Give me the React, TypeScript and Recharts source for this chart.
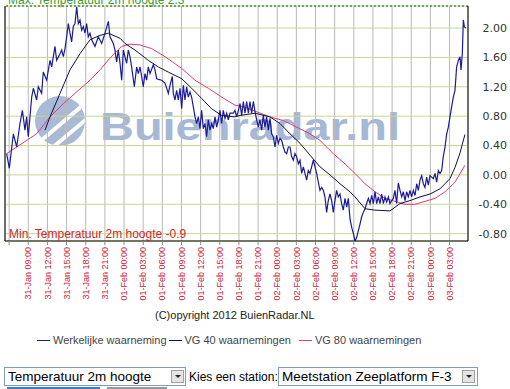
import { LineChart, Line, XAxis, YAxis, CartesianGrid, ReferenceLine } from 'recharts';

// tijd in uren sinds 31-Jan 00:00
const obsHours = [
  5.61, 6.03, 6.66, 7.18, 7.7, 8.07, 8.48, 8.74, 9.0, 9.53, 9.79, 10.31, 10.57, 11.09, 11.35, 11.88,
  12.4, 12.66, 13.18, 13.44, 13.97, 14.23, 14.49, 14.75, 15.01, 15.27, 15.53, 15.79, 16.05, 16.32,
  16.58, 16.84, 17.1, 17.36, 17.62, 17.88, 18.14, 18.4, 18.67, 18.93, 19.45, 19.97, 20.49, 21.02,
  21.54, 21.8, 22.32, 22.58, 22.84, 23.1, 23.37, 23.63, 23.89, 24.41, 24.67, 24.93, 25.19, 25.61,
  25.98, 26.24, 26.5, 26.76, 27.02, 27.28, 27.54, 27.8, 28.07, 28.59, 28.85, 29.11, 29.89, 30.42,
  30.94, 31.2, 31.56, 31.72, 31.98, 32.24, 32.5, 32.77, 33.03, 33.29, 33.55, 33.81, 34.07, 34.33,
  34.59, 34.85, 35.12, 35.38, 35.64, 35.9, 36.16, 36.42, 36.68, 36.94, 37.2, 37.47, 37.73, 37.99,
  38.25, 38.51, 38.77, 39.03, 39.29, 39.55, 39.82, 40.08, 40.34, 40.6, 41.12, 41.38, 41.64, 41.91,
  42.17, 42.43, 42.69, 42.95, 43.21, 43.47, 43.73, 43.99, 44.26, 44.52, 44.78, 45.04, 45.3, 45.56,
  45.82, 46.08, 46.34, 46.61, 46.87, 47.13, 47.39, 47.65, 47.91, 48.17, 48.43, 48.69, 48.96, 49.22,
  49.48, 49.74, 50.0, 50.26, 50.52, 50.78, 51.04, 51.31, 51.57, 51.83, 52.09, 52.35, 52.61, 52.87,
  53.13, 53.39, 53.66, 53.92, 54.18, 54.44, 54.7, 54.96, 55.22, 55.48, 55.74, 56.0, 56.27, 56.53,
  56.79, 57.05, 57.31, 57.57, 57.83, 58.09, 58.35, 58.62, 58.88, 59.14, 59.4, 59.66, 59.93, 60.19,
  60.45, 60.71, 60.97, 61.23, 61.49, 61.75, 62.01, 62.28, 62.54, 62.8, 63.06, 63.32, 63.58, 63.84,
  64.1, 64.36, 64.63, 64.89, 65.15, 65.41, 65.67, 65.93, 66.19, 66.45, 66.71, 66.97, 67.24, 67.5,
  67.76, 68.02, 68.28, 68.54, 68.8, 69.06, 69.33, 69.59, 69.85, 70.11, 70.37, 70.63, 70.89, 71.15,
  71.41, 71.67, 71.94, 72.2, 72.46, 72.72, 72.98, 73.24, 73.5, 73.76, 74.02, 74.29, 74.55, 74.81,
  75.07, 75.33, 75.59, 75.85, 76.11, 76.38, 76.64, 76.79, 77.0, 77.16, 77.31, 77.52,
];
const obsValues = [
  0.29, 0.09, 0.56, 0.38, 0.7, 0.88, 0.61, 0.79, 0.52, 1.06, 1.18, 1.02, 1.2, 1.11, 1.4, 1.29,
  1.56, 1.47, 1.75, 1.56, 1.65, 1.7, 1.61, 1.72, 1.88, 2.06, 1.93, 1.81, 2.02, 2.06,
  2.29, 2.06, 2.11, 1.97, 2.02, 1.93, 2.06, 1.88, 1.93, 1.84, 1.75, 1.88, 1.79, 1.93,
  2.09, 1.88, 1.79, 1.7, 1.54, 1.7, 1.52, 1.29, 1.7, 1.52, 1.7, 1.61, 1.47, 1.2,
  1.47, 1.38, 1.47, 1.34, 1.2, 1.38, 1.29, 1.47, 1.38, 1.5, 1.43, 1.31, 1.29, 1.25,
  1.11, 1.22, 1.34, 1.11, 1.02, 1.15, 1.02, 1.18, 0.9, 1.22, 1.02, 1.2, 1.06, 1.13,
  1.06, 0.93, 0.79, 0.7, 0.79, 0.63, 0.88, 0.63, 0.7, 0.52, 0.75, 0.61, 0.7, 0.63,
  0.79, 0.65, 0.75, 0.88, 0.7, 0.88, 0.77, 0.84, 0.75, 0.84, 0.84, 0.88, 0.79, 0.88,
  0.97, 0.81, 1.0, 0.84, 1.0, 0.84, 1.0, 0.84, 1.0, 0.86, 0.75, 0.65, 0.75, 0.61,
  0.81, 0.65, 0.79, 0.61, 0.77, 0.56, 0.52, 0.38, 0.54, 0.43, 0.5, 0.47, 0.38, 0.31,
  0.29, 0.38, 0.38, 0.25, 0.2, 0.29, 0.25, 0.15, 0.2, 0.02, 0.11, 0.02, -0.07, 0.06,
  0.02, 0.11, 0.2, 0.11, 0.02, -0.1, -0.21, -0.17, -0.21, -0.3, -0.51, -0.35, -0.26, -0.35,
  -0.51, -0.35, -0.21, -0.3, -0.26, -0.39, -0.48, -0.32, -0.44, -0.32, -0.6, -0.71, -0.8, -0.9,
  -0.85, -0.76, -0.67, -0.57, -0.51, -0.46, -0.39, -0.32, -0.39, -0.28, -0.39, -0.23, -0.39, -0.3,
  -0.39, -0.26, -0.39, -0.3, -0.37, -0.3, -0.39, -0.35, -0.32, -0.21, -0.39, -0.11, -0.21, -0.3,
  -0.23, -0.35, -0.23, -0.3, -0.21, -0.3, -0.21, -0.28, -0.12, -0.21, -0.07, -0.01, -0.12, -0.17,
  -0.03, -0.14, -0.01, -0.03, -0.05, 0.02, -0.1, 0.06, 0.02, 0.06, 0.25, 0.38, 0.56, 0.65,
  0.79, 0.93, 1.06, 1.15, 1.47, 1.56, 1.61, 1.43, 1.65, 2.11, 2.02, 2.0,
];

const vg40Hours = [
  11.62, 12.4, 13.97, 15.53, 17.1, 18.67, 20.23, 21.53, 23.37, 24.15, 25.72, 27.8, 29.37, 30.93,
  33.03, 34.6, 36.17, 37.73, 39.3, 41.38, 42.17, 44.52, 46.87, 48.43, 50.0, 51.57, 53.13, 54.7,
  56.27, 57.83, 59.4, 60.19, 61.75, 63.32, 65.67, 67.24, 68.8, 70.37, 71.94, 73.5, 74.29, 75.07,
  75.85, 76.64, 77.41,
];
const vg40Values = [
  0.61, 0.79, 1.11, 1.43, 1.65, 1.84, 1.9, 1.93, 1.86, 1.79, 1.7, 1.56, 1.47, 1.4,
  1.31, 1.18, 1.04, 0.9, 0.81, 0.79, 0.81, 0.84, 0.79, 0.7, 0.56, 0.43, 0.27, 0.11,
  0.0, -0.12, -0.23, -0.3, -0.46, -0.48, -0.49, -0.39, -0.35, -0.3, -0.26, -0.19, -0.12, -0.05,
  0.1, 0.3, 0.55,
];

const vg80Hours = [
  5.62, 7.18, 8.75, 10.32, 12.4, 14.48, 16.58, 18.67, 20.23, 21.8, 23.63, 24.93, 26.5, 28.33,
  30.42, 33.03, 35.12, 37.2, 39.3, 41.38, 42.68, 44.78, 46.87, 48.95, 51.05, 53.13, 54.7, 56.78,
  58.62, 60.19, 61.75, 63.32, 64.89, 66.45, 68.02, 69.59, 71.15, 72.72, 74.29, 75.85, 77.41,
];
const vg80Values = [
  0.29, 0.38, 0.47, 0.56, 0.79, 0.97, 1.13, 1.29, 1.43, 1.59, 1.75, 1.78, 1.77, 1.72,
  1.61, 1.45, 1.29, 1.18, 1.06, 0.95, 0.93, 0.86, 0.79, 0.74, 0.65, 0.56, 0.47, 0.29,
  0.15, 0.02, -0.12, -0.23, -0.32, -0.36, -0.4, -0.4, -0.36, -0.32, -0.23, -0.1, 0.13,
];

const tickHours = [6, 9, 12, 15, 18, 21, 24, 27, 30, 33, 36, 39, 42, 45, 48, 51, 54, 57, 60, 63, 66, 69, 72, 75];
const tickLabels = [
  '', '31-Jan 09:00', '31-Jan 12:00', '31-Jan 15:00', '31-Jan 18:00', '31-Jan 21:00',
  '01-Feb 00:00', '01-Feb 03:00', '01-Feb 06:00', '01-Feb 09:00', '01-Feb 12:00', '01-Feb 15:00',
  '01-Feb 18:00', '01-Feb 21:00', '02-Feb 00:00', '02-Feb 03:00', '02-Feb 06:00', '02-Feb 09:00',
  '02-Feb 12:00', '02-Feb 15:00', '02-Feb 18:00', '02-Feb 21:00', '03-Feb 00:00', '03-Feb 03:00',
];
const yTicks = [-0.8, -0.4, 0, 0.4, 0.8, 1.2, 1.6, 2.0];
const xMin = 5.35;
const xMax = 77.89;
const yMin = -0.9;
const yMax = 2.3;

const obsData = obsHours.map((h, i) => ({ h, v: obsValues[i] }));
const vg40Data = vg40Hours.map((h, i) => ({ h, v: vg40Values[i] }));
const vg80Data = vg80Hours.map((h, i) => ({ h, v: vg80Values[i] }));

const sans = '"Liberation Sans", Arial, sans-serif';

const XTick = (props: any) => {
  const { x, y, payload } = props;
  const label = tickLabels[tickHours.indexOf(payload.value)] ?? '';
  return (
    <text x={x} y={y} transform={`rotate(-90 ${x} ${y})`} textAnchor="end" dy="0.35em"
      fontSize={9} fill="#cc2236" fontFamily={sans}>
      {label}
    </text>
  );
};

const YTick = (props: any) => {
  const { x, y, payload } = props;
  return (
    <text x={x + 39} y={y} textAnchor="end" dy="0.35em" fontSize={11} fill="#333"
      fontFamily='"DejaVu Sans", Verdana, sans-serif'>
      {payload.value.toFixed(2)}
    </text>
  );
};

const Watermark = () => (
  <svg width={510} height={250} style={{ position: 'absolute', left: 0, top: 0 }}>
    <defs>
      <clipPath id="logo">
        <circle cx={60} cy={121} r={25} />
      </clipPath>
    </defs>
    <circle cx={60} cy={121} r={25} fill="#a8bad6" />
    <g clipPath="url(#logo)" stroke="#fff" strokeWidth={4}>
      <line x1={30} y1={150} x2={95} y2={95} />
      <line x1={40} y1={158} x2={100} y2={108} />
    </g>
    <text x={100} y={140} fontSize={38} fontWeight="bold" fill="#a6b8d6" textLength={300}
      lengthAdjust="spacingAndGlyphs" fontFamily={sans}>
      Buienradar.nl
    </text>
  </svg>
);

const legendItems = [
  { name: 'Werkelijke waarneming', color: '#1a1a9a' },
  { name: 'VG 40 waarnemingen', color: '#101040' },
  { name: 'VG 80 waarnemingen', color: '#d63c7c' },
];

const selectStyle = {
  position: 'absolute' as const,
  top: 367,
  height: 19,
  border: '1px solid #7f9db9',
  background: '#fff',
  fontSize: 13.5,
  lineHeight: '17px',
  paddingLeft: 3,
  boxSizing: 'border-box' as const,
  color: '#000',
  whiteSpace: 'nowrap' as const,
};

const Arrow = ({ left }: { left: number }) => (
  <div style={{ position: 'absolute', left, top: 2, width: 13, height: 13, background: '#e4e4e4',
    border: '1px solid #a0a0a0', boxSizing: 'border-box' }}>
    <div style={{ position: 'absolute', left: 3, top: 4, width: 0, height: 0, borderLeft: '3px solid transparent',
      borderRight: '3px solid transparent', borderTop: '3px solid #222' }} />
  </div>
);

export default function App() {
  return (
    <div style={{ position: 'absolute', left: 0, top: 0, width: 510, height: 389, overflow: 'hidden',
      background: '#fff', fontFamily: sans }}>
      <Watermark />
      <div style={{ position: 'absolute', left: 0, top: 0 }}>
        <LineChart width={510} height={310} margin={{ top: 6, right: 0, bottom: 0, left: 5 }}>
          <CartesianGrid horizontal={false} stroke="#b8b8b8" />
          <CartesianGrid vertical={false} stroke="#c6d88c" />
          <XAxis type="number" dataKey="h" domain={[xMin, xMax]} ticks={tickHours} allowDataOverflow
            height={69} axisLine={{ stroke: '#000' }} tickLine={{ stroke: '#888' }} tickSize={4}
            tickMargin={2} tick={<XTick />} interval={0} />
          <YAxis orientation="right" domain={[yMin, yMax]} ticks={yTicks} allowDataOverflow width={42}
            axisLine={{ stroke: '#000' }} tickLine={false} tickSize={0} tickMargin={0} tick={<YTick />} interval={0} />
          <ReferenceLine x={xMin} stroke="#000" />
          <ReferenceLine y={yMax} stroke="#0b5a0b" strokeDasharray="2 2" />
          <Line data={vg80Data} dataKey="v" type="linear" stroke="#d63c7c" strokeWidth={1} dot={false}
            isAnimationActive={false} />
          <Line data={obsData} dataKey="v" type="linear" stroke="#1a1a9a" strokeWidth={1.2} dot={false}
            isAnimationActive={false} />
          <Line data={vg40Data} dataKey="v" type="linear" stroke="#101040" strokeWidth={1} dot={false}
            isAnimationActive={false} />
        </LineChart>
      </div>
      <div style={{ position: 'absolute', left: 8, top: -7, fontSize: 12, color: '#3a9a3a', whiteSpace: 'nowrap' }}>
        Max. Temperatuur 2m hoogte 2.3
      </div>
      <div style={{ position: 'absolute', left: 9, top: 227, fontSize: 12, color: '#cc2a2a', whiteSpace: 'nowrap' }}>
        Min. Temperatuur 2m hoogte -0.9
      </div>
      <div style={{ position: 'absolute', left: 155, top: 309, fontSize: 11, color: '#222', whiteSpace: 'nowrap' }}>
        (C)opyright 2012 BuienRadar.NL
      </div>
      <div style={{ position: 'absolute', left: 37, top: 334, display: 'flex', alignItems: 'center',
        fontSize: 11, color: '#444', whiteSpace: 'nowrap' }}>
        {legendItems.map((it, i) => (
          <span key={it.name} style={{ display: 'flex', alignItems: 'center', marginRight: i === 0 ? 2 : 8 }}>
            <span style={{ display: 'inline-block', width: 13, height: 1, background: it.color, marginRight: 3 }} />
            {it.name}
          </span>
        ))}
      </div>
      <div style={{ ...selectStyle, left: 4, width: 182 }}>
        Temperatuur 2m hoogte
        <Arrow left={166} />
      </div>
      <div style={{ position: 'absolute', left: 189, top: 369, fontSize: 12, lineHeight: '16px', whiteSpace: 'nowrap' }}>
        Kies een station:
      </div>
      <div style={{ ...selectStyle, left: 278, width: 200 }}>
        Meetstation Zeeplatform F-3
        <Arrow left={183} />
      </div>
      <div style={{ position: 'absolute', left: 7, top: 387, width: 93, height: 4, background: '#3b7bc8' }} />
      <div style={{ position: 'absolute', left: 107, top: 387, width: 60, height: 4, background: '#999' }} />
    </div>
  );
}
